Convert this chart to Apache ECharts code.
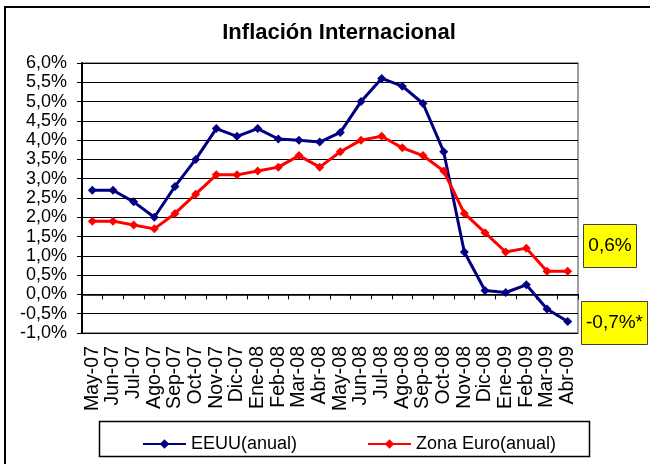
<!DOCTYPE html>
<html>
<head>
<meta charset="utf-8">
<script src="https://cdn.jsdelivr.net/npm/echarts@6/dist/echarts.min.js"></script>
<style>
  html, body { margin: 0; padding: 0; background: #fff; }
  #chart { width: 650px; height: 464px; }
</style>
</head>
<body>
<div id="chart"></div>
<script>
const months = [
  "May-07", "Jun-07", "Jul-07", "Ago-07", "Sep-07", "Oct-07", "Nov-07", "Dic-07",
  "Ene-08", "Feb-08", "Mar-08", "Abr-08", "May-08", "Jun-08", "Jul-08", "Ago-08",
  "Sep-08", "Oct-08", "Nov-08", "Dic-08", "Ene-09", "Feb-09", "Mar-09", "Abr-09"
];
const eeuu = [
  2.7, 2.7, 2.4, 2.0, 2.8, 3.5, 4.3, 4.1,
  4.3, 4.03, 4.0, 3.95, 4.2, 5.0, 5.6, 5.4,
  4.95, 3.7, 1.1, 0.1, 0.05, 0.25, -0.38, -0.7
];
const zonaEuro = [
  1.9, 1.9, 1.8, 1.7, 2.1, 2.6, 3.1, 3.1,
  3.2, 3.3, 3.6, 3.3, 3.7, 4.0, 4.1, 3.8,
  3.6, 3.2, 2.1, 1.6, 1.1, 1.2, 0.6, 0.6
];
const lastLabels = ["0,6%", "-0,7%*"];

const fmtPct = (v) => v.toFixed(1).replace(".", ",") + "%";
const font = "'Liberation Sans', Arial, sans-serif";

const chart = echarts.init(document.getElementById("chart"));

chart.setOption({
  animation: false,
  backgroundColor: "#ffffff",
  textStyle: { fontFamily: font },
  title: {
    text: "Inflación Internacional",
    left: 334,
    textAlign: "center",
    top: 17,
    textStyle: { fontSize: 22, fontWeight: "bold", color: "#000", fontFamily: font },
  },
  grid: {
    left: 82,
    right: 72,
    top: 63,
    bottom: 131,
    show: true,
    borderColor: "#808080",
    borderWidth: 1.5,
  },
  legend: [
    {
      data: ["EEUU(anual)"],
      left: 137,
      top: 430,
      itemWidth: 43,
      itemHeight: 12,
      itemGap: 5,
      textStyle: { fontSize: 18, color: "#000", fontFamily: font, lineHeight: 18 },
    },
    {
      data: ["Zona Euro(anual)"],
      left: 362,
      top: 430,
      itemWidth: 43,
      itemHeight: 12,
      textStyle: { fontSize: 18, color: "#000", fontFamily: font, lineHeight: 18 },
    },
  ],
  xAxis: [
    {
      type: "category",
      data: months,
      position: "bottom",
      axisLine: { show: false, onZero: false },
      axisTick: { show: false },
      axisLabel: {
        rotate: 90,
        interval: 0,
        margin: 13,
        fontSize: 19.5,
        color: "#000",
        fontFamily: font,
      },
    },
    {
      type: "category",
      data: months,
      position: "bottom",
      axisLine: { show: true, onZero: true, lineStyle: { color: "#000", width: 1.5 } },
      axisTick: { show: true, interval: 0, length: 5, lineStyle: { color: "#000" } },
      axisLabel: { show: false },
    },
  ],
  yAxis: {
    type: "value",
    min: -1,
    max: 6,
    interval: 0.5,
    axisLine: { show: true, lineStyle: { color: "#000", width: 2 } },
    axisTick: { show: true, length: 5, lineStyle: { color: "#000" } },
    axisLabel: {
      formatter: fmtPct,
      fontSize: 18,
      color: "#000",
      margin: 15,
      fontFamily: font,
    },
    splitLine: { show: true, lineStyle: { color: "#000", width: 1 } },
  },
  series: [
    {
      name: "EEUU(anual)",
      type: "line",
      xAxisIndex: 0,
      data: eeuu,
      symbol: "diamond",
      symbolSize: 9,
      color: "#000080",
      lineStyle: { width: 3, color: "#000080" },
      itemStyle: { color: "#000080" },
    },
    {
      name: "Zona Euro(anual)",
      type: "line",
      xAxisIndex: 0,
      data: zonaEuro,
      symbol: "diamond",
      symbolSize: 9,
      color: "#ff0000",
      lineStyle: { width: 3, color: "#ff0000" },
      itemStyle: { color: "#ff0000" },
    },
  ],
  graphic: [
    {
      type: "rect",
      shape: { x: 5, y: 7, width: 700, height: 520 },
      style: { fill: null, stroke: "#000", lineWidth: 2 },
      silent: true,
      z: 100,
    },
    {
      type: "rect",
      shape: { x: 99.5, y: 421.5, width: 490, height: 35 },
      style: { fill: null, stroke: "#000", lineWidth: 1.5 },
      silent: true,
    },
    {
      type: "group",
      left: 583,
      top: 224,
      children: [
        {
          type: "rect",
          shape: { x: 0, y: 0, width: 53, height: 43 },
          style: { fill: "#ffff00", stroke: "#404040", lineWidth: 1 },
        },
        {
          type: "text",
          x: 26.5,
          y: 21.5,
          style: {
            text: lastLabels[0],
            fontSize: 19,
            fontFamily: font,
            fill: "#000",
            align: "center",
            verticalAlign: "middle",
          },
        },
      ],
    },
    {
      type: "group",
      left: 581,
      top: 301,
      children: [
        {
          type: "rect",
          shape: { x: 0, y: 0, width: 66, height: 43 },
          style: { fill: "#ffff00", stroke: "#404040", lineWidth: 1 },
        },
        {
          type: "text",
          x: 33,
          y: 21.5,
          style: {
            text: lastLabels[1],
            fontSize: 19,
            fontFamily: font,
            fill: "#000",
            align: "center",
            verticalAlign: "middle",
          },
        },
      ],
    },
  ],
});
</script>
</body>
</html>
